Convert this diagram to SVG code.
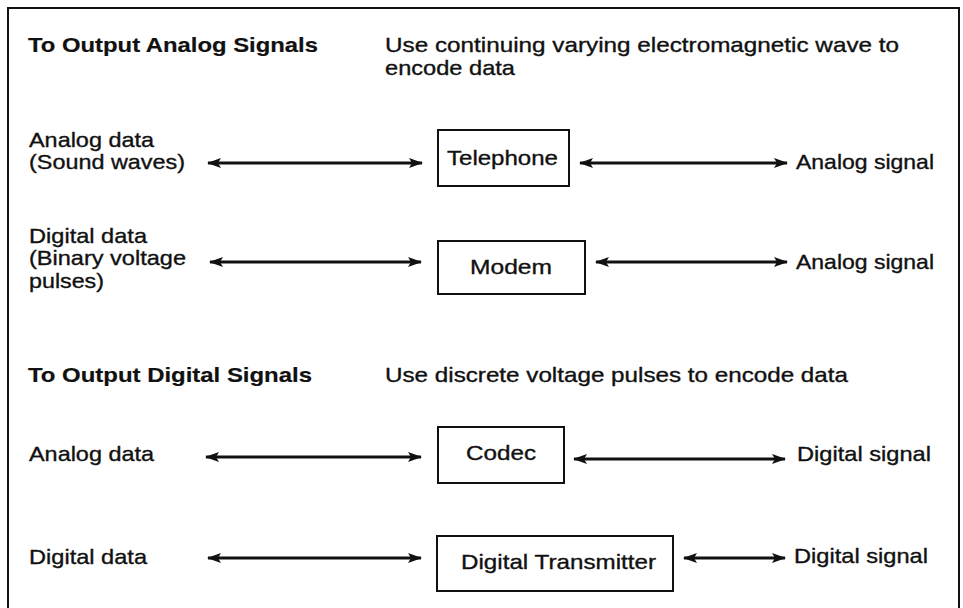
<svg xmlns="http://www.w3.org/2000/svg" width="963" height="608" viewBox="0 0 963 608">
<defs>
<marker id="ah" markerWidth="14" markerHeight="10" refX="13" refY="5" orient="auto-start-reverse" markerUnits="userSpaceOnUse">
<path d="M0,0 L14,5 L0,10 L3,5 Z" fill="#111"/>
</marker>
<style>
text{font-family:"Liberation Sans",Arial,sans-serif;font-size:21px;fill:#111;stroke:#111;stroke-width:0.35}
.b{font-weight:bold;stroke-width:0.2}
.box{fill:#fff;stroke:#111;stroke-width:2}
.arr{stroke:#111;stroke-width:3;fill:none;marker-start:url(#ah);marker-end:url(#ah)}
</style>
</defs>
<rect width="963" height="608" fill="#fff"/>
<path d="M8,612 V8 H959 V612" fill="none" stroke="#111" stroke-width="2"/>
<g id="headers">
<text class="b" x="28" y="52" textLength="290" lengthAdjust="spacingAndGlyphs">To Output Analog Signals</text>
<text x="385" y="52" textLength="514" lengthAdjust="spacingAndGlyphs">Use continuing varying electromagnetic wave to</text>
<text x="385" y="75" textLength="130" lengthAdjust="spacingAndGlyphs">encode data</text>
<text class="b" x="28" y="382" textLength="284" lengthAdjust="spacingAndGlyphs">To Output Digital Signals</text>
<text x="385" y="382" textLength="463" lengthAdjust="spacingAndGlyphs">Use discrete voltage pulses to encode data</text>
</g>
<g id="labels">
<text x="29" y="147" textLength="125" lengthAdjust="spacingAndGlyphs">Analog data</text>
<text x="29" y="169" textLength="156" lengthAdjust="spacingAndGlyphs">(Sound waves)</text>
<text x="29" y="243" textLength="118" lengthAdjust="spacingAndGlyphs">Digital data</text>
<text x="29" y="265" textLength="157" lengthAdjust="spacingAndGlyphs">(Binary voltage</text>
<text x="29" y="288" textLength="75" lengthAdjust="spacingAndGlyphs">pulses)</text>
<text x="29" y="461" textLength="125" lengthAdjust="spacingAndGlyphs">Analog data</text>
<text x="29" y="564" textLength="118" lengthAdjust="spacingAndGlyphs">Digital data</text>
<text x="796" y="169" textLength="138" lengthAdjust="spacingAndGlyphs">Analog signal</text>
<text x="796" y="269" textLength="138" lengthAdjust="spacingAndGlyphs">Analog signal</text>
<text x="797" y="461" textLength="134" lengthAdjust="spacingAndGlyphs">Digital signal</text>
<text x="794" y="563" textLength="134" lengthAdjust="spacingAndGlyphs">Digital signal</text>
</g>
<g id="telephone">
<rect class="box" x="438" y="130" width="131" height="56"/>
<text x="447" y="165" textLength="111" lengthAdjust="spacingAndGlyphs">Telephone</text>
</g>
<g id="modem">
<rect class="box" x="438" y="241" width="147" height="53"/>
<text x="470" y="274" textLength="82" lengthAdjust="spacingAndGlyphs">Modem</text>
</g>
<g id="codec">
<rect class="box" x="438" y="427" width="126" height="56"/>
<text x="466" y="460" textLength="70" lengthAdjust="spacingAndGlyphs">Codec</text>
</g>
<g id="transmitter">
<rect class="box" x="437" y="536" width="236" height="55"/>
<text x="461" y="569" textLength="195" lengthAdjust="spacingAndGlyphs">Digital Transmitter</text>
</g>
<g id="connectors">
<line class="arr" x1="208" y1="163" x2="422" y2="163"/>
<line class="arr" x1="580" y1="163" x2="787" y2="163"/>
<line class="arr" x1="210" y1="262" x2="421" y2="262"/>
<line class="arr" x1="596" y1="262" x2="787" y2="262"/>
<line class="arr" x1="206" y1="457" x2="421" y2="457"/>
<line class="arr" x1="574" y1="459" x2="785" y2="459"/>
<line class="arr" x1="208" y1="558" x2="421" y2="558"/>
<line class="arr" x1="684" y1="558" x2="785" y2="558"/>
</g>
</svg>
